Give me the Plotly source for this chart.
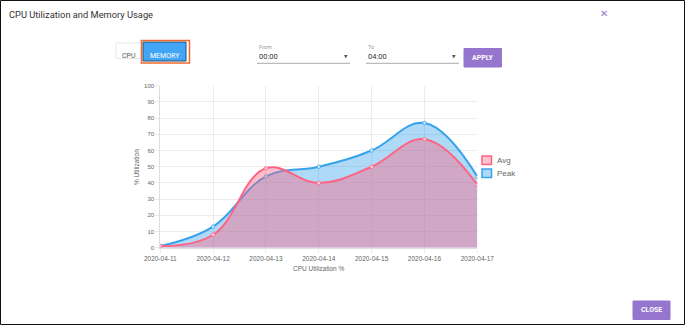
import plotly.graph_objects as go

dates = ["2020-04-11", "2020-04-12", "2020-04-13", "2020-04-14", "2020-04-15", "2020-04-16", "2020-04-17"]
avg = [1, 8, 49, 40, 50, 67, 39]
peak = [1, 13, 44, 50, 60, 77, 44]
y_ticks = list(range(0, 101, 10))

W, H = 685, 325
def px(x):
    return x / W
def py(y):
    return 1 - y / H

BLUE = "rgb(54,162,235)"
RED = "rgb(255,99,132)"
PURPLE = "#9575cd"
UI_FONT = "Roboto, Liberation Sans, Arial"
CH_FONT = "Liberation Sans, Arial"

fig = go.Figure()
fig.add_trace(go.Scatter(
    x=dates, y=peak, name="Peak", mode="lines+markers",
    line=dict(color=BLUE, width=2, shape="spline", smoothing=1.15),
    marker=dict(size=3.5, color="rgba(210,235,252,1)", line=dict(color=BLUE, width=0.8)),
    fill="tozeroy", fillcolor="rgba(54,162,235,0.4)", showlegend=False,
))
fig.add_trace(go.Scatter(
    x=dates, y=avg, name="Avg", mode="lines+markers",
    line=dict(color=RED, width=2, shape="spline", smoothing=1.15),
    marker=dict(size=3.5, color="rgba(252,215,225,1)", line=dict(color=RED, width=0.8)),
    fill="tozeroy", fillcolor="rgba(255,99,132,0.42)", showlegend=False,
))

shapes = []
annotations = []

# outer border
shapes.append(dict(type="rect", xref="paper", yref="paper", x0=px(0.5), x1=px(684.5), y0=py(0.5), y1=py(324.5),
                   line=dict(color="#111", width=1), fillcolor="rgba(0,0,0,0)", layer="above"))
# title
annotations.append(dict(text="CPU Utilization and Memory Usage", x=px(7), y=py(14), xref="paper", yref="paper",
                        xanchor="left", yanchor="middle", showarrow=False, font=dict(family=UI_FONT, size=9.3, color="#333")))
# close X
annotations.append(dict(text="✕", x=px(604), y=py(13), xref="paper", yref="paper",
                        xanchor="center", yanchor="middle", showarrow=False, font=dict(family="DejaVu Sans", size=10, color=PURPLE)))

# CPU button
shapes.append(dict(type="rect", xref="paper", yref="paper", x0=px(116), x1=px(142), y0=py(43), y1=py(58.5),
                   line=dict(color="#e6e6e6", width=1), fillcolor="white"))
annotations.append(dict(text="CPU", x=px(129), y=py(56), xref="paper", yref="paper", xanchor="center", yanchor="middle",
                        showarrow=False, font=dict(family=UI_FONT, size=7, color="#555")))
# MEMORY button
shapes.append(dict(type="rect", xref="paper", yref="paper", x0=px(143), x1=px(186), y0=py(42), y1=py(61),
                   line=dict(color="#2a4f7a", width=1), fillcolor="#42a5f5"))
shapes.append(dict(type="rect", xref="paper", yref="paper", x0=px(141.5), x1=px(189.5), y0=py(40.5), y1=py(63),
                   line=dict(color="#f26a2e", width=1.5), fillcolor="rgba(0,0,0,0)"))
annotations.append(dict(text="MEMORY", x=px(164.5), y=py(56), xref="paper", yref="paper", xanchor="center", yanchor="middle",
                        showarrow=False, font=dict(family=UI_FONT, size=7, color="white")))

# From / To selects
for lbl, val, x0, x1, arrow in [("From", "00:00", 257, 350, 346), ("To", "04:00", 366, 459, 454)]:
    annotations.append(dict(text=lbl, x=px(x0), y=py(46.5), xref="paper", yref="paper", xanchor="left", yanchor="middle",
                            showarrow=False, font=dict(family=UI_FONT, size=5.5, color="#999")))
    annotations.append(dict(text=val, x=px(x0), y=py(57), xref="paper", yref="paper", xanchor="left", yanchor="middle",
                            showarrow=False, font=dict(family=UI_FONT, size=7.5, color="#333")))
    annotations.append(dict(text="▼", x=px(arrow), y=py(57), xref="paper", yref="paper", xanchor="center", yanchor="middle",
                            showarrow=False, font=dict(family="DejaVu Sans", size=4.5, color="#555")))
    shapes.append(dict(type="line", xref="paper", yref="paper", x0=px(x0), x1=px(x1), y0=py(63.3), y1=py(63.3),
                       line=dict(color="#aaa", width=1)))

# APPLY button
shapes.append(dict(type="rect", xref="paper", yref="paper", x0=px(464), x1=px(501.5), y0=py(48.5), y1=py(67),
                   line=dict(color=PURPLE, width=1), fillcolor=PURPLE))
annotations.append(dict(text="<b>APPLY</b>", x=px(482.7), y=py(57.8), xref="paper", yref="paper", xanchor="center", yanchor="middle",
                        showarrow=False, font=dict(family=UI_FONT, size=7, color="white")))
# CLOSE button
shapes.append(dict(type="rect", xref="paper", yref="paper", x0=px(633), x1=px(670), y0=py(301), y1=py(319.5),
                   line=dict(color=PURPLE, width=1), fillcolor=PURPLE))
annotations.append(dict(text="<b>CLOSE</b>", x=px(651.5), y=py(310.2), xref="paper", yref="paper", xanchor="center", yanchor="middle",
                        showarrow=False, font=dict(family=UI_FONT, size=7, color="white")))

# legend
for lbl, y0, col, fillc in [("Avg", 156, RED, "rgba(255,99,132,0.4)"), ("Peak", 169, BLUE, "rgba(54,162,235,0.4)")]:
    shapes.append(dict(type="rect", xref="paper", yref="paper", x0=px(482), x1=px(491.5), y0=py(y0), y1=py(y0 + 8.5),
                       line=dict(color=col, width=1.5), fillcolor=fillc))
    annotations.append(dict(text=lbl, x=px(494.5), y=py(y0 + 4.3), xref="paper", yref="paper", xanchor="left", yanchor="middle",
                            showarrow=False, font=dict(family=CH_FONT, size=8, color="#666")))

# axis titles
annotations.append(dict(text="% Utilization", x=px(136), y=py(167), xref="paper", yref="paper", textangle=-90,
                        xanchor="center", yanchor="middle", showarrow=False, font=dict(family=CH_FONT, size=6.5, color="#666")))
annotations.append(dict(text="CPU Utilization %", x=px(318.5), y=py(268.5), xref="paper", yref="paper",
                        xanchor="center", yanchor="middle", showarrow=False, font=dict(family=CH_FONT, size=6.5, color="#666")))

fig.update_layout(
    width=W, height=H, autosize=False, margin=dict(l=0, r=0, t=0, b=0, pad=0, autoexpand=False),
    paper_bgcolor="white", plot_bgcolor="white",
    shapes=shapes, annotations=annotations, showlegend=False,
    xaxis=dict(domain=[px(160.3), px(477.3)], type="category", range=[0, 6], automargin=False,
               showgrid=True, gridcolor="#ececec", gridwidth=1,
               showline=True, linecolor="#ddd", ticks="outside", ticklen=4, tickcolor="#ececec",
               tickfont=dict(family=CH_FONT, size=6.5, color="#666"), zeroline=False),
    yaxis=dict(domain=[py(247.7), py(85.7)], range=[0, 100], tickvals=y_ticks, automargin=False,
               showgrid=True, gridcolor="#ececec", gridwidth=1,
               showline=True, linecolor="#ddd", ticks="outside", ticklen=4, tickcolor="#ececec",
               tickfont=dict(family=CH_FONT, size=6, color="#666"), zeroline=False),
)

fig.write_html("out.html", config={"responsive": False, "displayModeBar": False})

with open("out.html", "r", encoding="utf-8") as f:
    html = f.read()
html = html.replace("<head>", "<head><style>html,body{margin:0;padding:0;overflow:hidden;}</style>", 1)
with open("out.html", "w", encoding="utf-8") as f:
    f.write(html)
